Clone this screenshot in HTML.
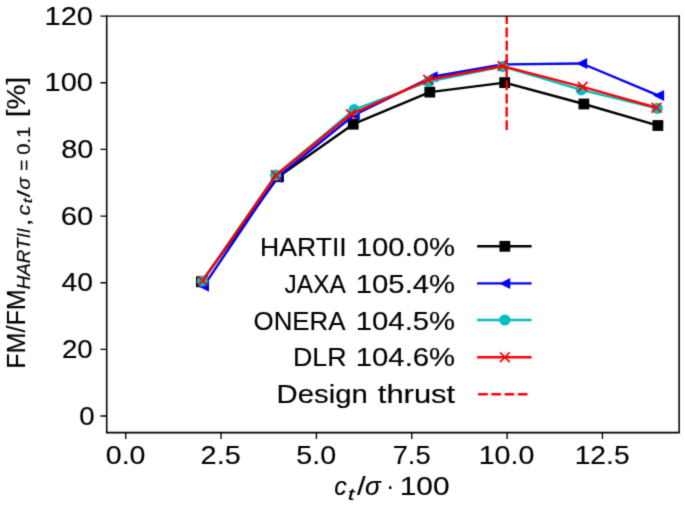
<!DOCTYPE html>
<html><head><meta charset="utf-8"><title>chart</title>
<style>html,body{margin:0;padding:0;background:#fff;overflow:hidden;width:685px;height:505px;}svg{display:block;}text{font-family:"Liberation Sans",sans-serif;fill:#000;stroke:#000;stroke-width:0.15px;}</style></head><body>
<svg width="685" height="505" viewBox="0 0 685 505">
<rect width="685" height="505" fill="#fff"/>
<defs><filter id="bl" x="0" y="0" width="685" height="505" filterUnits="userSpaceOnUse" color-interpolation-filters="sRGB"><feConvolveMatrix order="3" kernelMatrix="0.01917 0.10012 0.01917 0.10012 0.52283 0.10012 0.01917 0.10012 0.01917" divisor="1" edgeMode="duplicate" preserveAlpha="true"/></filter></defs>
<g filter="url(#bl)">
<rect width="685" height="505" fill="#fff"/>
<defs><clipPath id="ax"><rect x="106.7" y="16.1" width="572.45" height="416.50"/></clipPath></defs>
<g clip-path="url(#ax)">
<polyline points="201.40,281.80 278.50,176.70 353.20,124.20 429.80,92.10 504.70,82.60 583.90,104.00 657.90,125.50" fill="none" stroke="#000000" stroke-width="2.4" stroke-linejoin="round" stroke-linecap="square"/>
<rect x="196.00" y="276.40" width="10.8" height="10.8" fill="#000000"/>
<rect x="273.10" y="171.30" width="10.8" height="10.8" fill="#000000"/>
<rect x="347.80" y="118.80" width="10.8" height="10.8" fill="#000000"/>
<rect x="424.40" y="86.70" width="10.8" height="10.8" fill="#000000"/>
<rect x="499.30" y="77.20" width="10.8" height="10.8" fill="#000000"/>
<rect x="578.50" y="98.60" width="10.8" height="10.8" fill="#000000"/>
<rect x="652.50" y="120.10" width="10.8" height="10.8" fill="#000000"/>
<polyline points="203.60,286.20 276.80,177.60 354.40,114.80 432.20,76.80 502.60,64.40 581.80,63.50 658.70,95.60" fill="none" stroke="#0000ff" stroke-width="2.4" stroke-linejoin="round" stroke-linecap="square"/>
<path d="M198.10 286.20 L209.00 280.70 L209.00 291.70 Z" fill="#0000ff"/>
<path d="M271.30 177.60 L282.20 172.10 L282.20 183.10 Z" fill="#0000ff"/>
<path d="M348.90 114.80 L359.80 109.30 L359.80 120.30 Z" fill="#0000ff"/>
<path d="M426.70 76.80 L437.60 71.30 L437.60 82.30 Z" fill="#0000ff"/>
<path d="M497.10 64.40 L508.00 58.90 L508.00 69.90 Z" fill="#0000ff"/>
<path d="M576.30 63.50 L587.20 58.00 L587.20 69.00 Z" fill="#0000ff"/>
<path d="M653.20 95.60 L664.10 90.10 L664.10 101.10 Z" fill="#0000ff"/>
<polyline points="202.40,281.00 275.60,175.20 354.20,109.60 428.70,81.50 502.80,66.60 581.20,89.80 657.20,108.40" fill="none" stroke="#00bfbf" stroke-width="2.4" stroke-linejoin="round" stroke-linecap="square"/>
<circle cx="202.40" cy="281.00" r="5.6" fill="#00bfbf"/>
<circle cx="275.60" cy="175.20" r="5.6" fill="#00bfbf"/>
<circle cx="354.20" cy="109.60" r="5.6" fill="#00bfbf"/>
<circle cx="428.70" cy="81.50" r="5.6" fill="#00bfbf"/>
<circle cx="502.80" cy="66.60" r="5.6" fill="#00bfbf"/>
<circle cx="581.20" cy="89.80" r="5.6" fill="#00bfbf"/>
<circle cx="657.20" cy="108.40" r="5.6" fill="#00bfbf"/>
<polyline points="202.80,280.70 275.90,175.30 350.90,114.30 428.20,79.80 502.60,66.00 582.70,86.80 656.50,107.70" fill="none" stroke="#ff0000" stroke-width="2.4" stroke-linejoin="round" stroke-linecap="square"/>
<path d="M197.90 275.80 L207.70 285.60 M197.90 285.60 L207.70 275.80" stroke="#ff0000" stroke-width="1.7" fill="none"/>
<path d="M271.00 170.40 L280.80 180.20 M271.00 180.20 L280.80 170.40" stroke="#ff0000" stroke-width="1.7" fill="none"/>
<path d="M346.00 109.40 L355.80 119.20 M346.00 119.20 L355.80 109.40" stroke="#ff0000" stroke-width="1.7" fill="none"/>
<path d="M423.30 74.90 L433.10 84.70 M423.30 84.70 L433.10 74.90" stroke="#ff0000" stroke-width="1.7" fill="none"/>
<path d="M497.70 61.10 L507.50 70.90 M497.70 70.90 L507.50 61.10" stroke="#ff0000" stroke-width="1.7" fill="none"/>
<path d="M577.80 81.90 L587.60 91.70 M577.80 91.70 L587.60 81.90" stroke="#ff0000" stroke-width="1.7" fill="none"/>
<path d="M651.60 102.80 L661.40 112.60 M651.60 112.60 L661.40 102.80" stroke="#ff0000" stroke-width="1.7" fill="none"/>
<line x1="506.7" y1="130.0" x2="506.7" y2="16.1" stroke="#ff0000" stroke-width="2.4" stroke-dasharray="9.65 3.6"/>
</g>
<path d="M106.7 15.500000000000002V432.6M679.15 15.500000000000002V432.6M105.95 432.6H679.9" fill="none" stroke="#000" stroke-width="1.55"/>
<path d="M105.95 16.1H679.9" fill="none" stroke="#000" stroke-width="1.2"/>
<path d="M100.40 416.00H106.7 M100.40 349.35H106.7 M100.40 282.70H106.7 M100.40 216.05H106.7 M100.40 149.40H106.7 M100.40 82.75H106.7 M100.40 16.10H106.7 M125.70 432.6V438.90 M221.05 432.6V438.90 M316.40 432.6V438.90 M411.75 432.6V438.90 M507.10 432.6V438.90 M602.45 432.6V438.90" stroke="#000" stroke-width="1.35" fill="none"/>
<line x1="478.3" y1="246.30" x2="530.4" y2="246.30" stroke="#000000" stroke-width="2.4" stroke-linecap="square"/>
<rect x="499.45" y="240.90" width="10.8" height="10.8" fill="#000000"/>
<line x1="478.3" y1="283.40" x2="530.4" y2="283.40" stroke="#0000ff" stroke-width="2.4" stroke-linecap="square"/>
<path d="M499.35 283.40 L510.25 277.90 L510.25 288.90 Z" fill="#0000ff"/>
<line x1="478.3" y1="320.00" x2="530.4" y2="320.00" stroke="#00bfbf" stroke-width="2.4" stroke-linecap="square"/>
<circle cx="504.85" cy="320.00" r="5.6" fill="#00bfbf"/>
<line x1="478.3" y1="357.20" x2="530.4" y2="357.20" stroke="#ff0000" stroke-width="2.4" stroke-linecap="square"/>
<path d="M499.95 352.30 L509.75 362.10 M499.95 362.10 L509.75 352.30" stroke="#ff0000" stroke-width="1.7" fill="none"/>
<line x1="478.1" y1="394.30" x2="530.4" y2="394.30" stroke="#ff0000" stroke-width="2.4" stroke-dasharray="9.65 3.6"/>
<text transform="translate(44.59 24.80) scale(1.1142 1)" font-size="26.0">120</text>
<text transform="translate(44.59 91.45) scale(1.1142 1)" font-size="26.0">100</text>
<text transform="translate(61.20 158.10) scale(1.1107 1)" font-size="26.0">80</text>
<text transform="translate(60.83 224.75) scale(1.1237 1)" font-size="26.0">60</text>
<text transform="translate(61.46 291.40) scale(1.0873 1)" font-size="26.0">40</text>
<text transform="translate(61.90 358.05) scale(1.0645 1)" font-size="26.0">20</text>
<text transform="translate(79.14 424.70) scale(1.0615 1)" font-size="26.0">0</text>
<text transform="translate(105.76 463.50) scale(1.0985 1)" font-size="26.0">0.0</text>
<text transform="translate(200.60 463.50) scale(1.1101 1)" font-size="26.0">2.5</text>
<text transform="translate(296.35 463.50) scale(1.1043 1)" font-size="26.0">5.0</text>
<text transform="translate(392.67 463.50) scale(1.0510 1)" font-size="26.0">7.5</text>
<text transform="translate(478.71 463.50) scale(1.1007 1)" font-size="26.0">10.0</text>
<text transform="translate(574.69 463.50) scale(1.0850 1)" font-size="26.0">12.5</text>
<text transform="translate(260.12 255.90) scale(1.0227 1)" font-size="26.0">HARTII</text>
<text transform="translate(355.77 255.90) scale(1.1273 1)" font-size="26.0">100.0%</text>
<text transform="translate(284.62 292.70) scale(0.9406 1)" font-size="26.0">JAXA</text>
<text transform="translate(355.77 292.70) scale(1.1273 1)" font-size="26.0">105.4%</text>
<text transform="translate(253.59 329.50) scale(0.9949 1)" font-size="26.0">ONERA</text>
<text transform="translate(355.77 329.50) scale(1.1273 1)" font-size="26.0">104.5%</text>
<text transform="translate(292.90 366.30) scale(1.0330 1)" font-size="26.0">DLR</text>
<text transform="translate(355.77 366.30) scale(1.1273 1)" font-size="26.0">104.6%</text>
<text transform="translate(276.61 403.10) scale(1.1273 1)" font-size="26.0">Design</text>
<text transform="translate(377.80 403.10) scale(1.1902 1)" font-size="26.0">thrust</text>
<text transform="translate(334.22 495.20) scale(0.9600 1)" font-size="26.0" font-style="italic">c</text>
<text transform="translate(347.63 499.80) scale(1.4869 1)" font-size="16.5" font-style="italic">t</text>
<text transform="translate(357.00 495.20) scale(1.1897 1)" font-size="26.0">/</text>
<text transform="translate(365.08 495.20) scale(1.0036 1)" font-size="26.0" font-style="italic">σ</text>
<text transform="translate(386.20 495.20) scale(0.9143 1)" font-size="26.0">·</text>
<text transform="translate(399.73 495.20) scale(1.1506 1)" font-size="26.0">100</text>
<g transform="translate(25 366.8) rotate(-90)">
<text transform="translate(-1.96 0.00) scale(0.9654 1)" font-size="26.0">FM/FM</text>
<text transform="translate(77.51 4.70) scale(1.0354 1)" font-size="18.2" font-style="italic">HARTII</text>
<text transform="translate(140.25 4.70) scale(1.5824 1)" font-size="18.2">,</text>
<text transform="translate(151.41 4.70) scale(1.2073 1)" font-size="18.2" font-style="italic">c</text>
<text transform="translate(163.30 7.20) scale(1.5000 1)" font-size="12.8" font-style="italic">t</text>
<text transform="translate(169.30 4.70) scale(1.4652 1)" font-size="18.2">/</text>
<text transform="translate(176.96 4.70) scale(1.1271 1)" font-size="18.2" font-style="italic">σ</text>
<text transform="translate(195.68 4.70) scale(1.0769 1)" font-size="18.2">=</text>
<text transform="translate(212.17 4.70) scale(1.1086 1)" font-size="18.2">0.1</text>
<text transform="translate(249.45 0.00) scale(1.0784 1)" font-size="26.0">[%]</text>
</g>
</g>
</svg></body></html>
